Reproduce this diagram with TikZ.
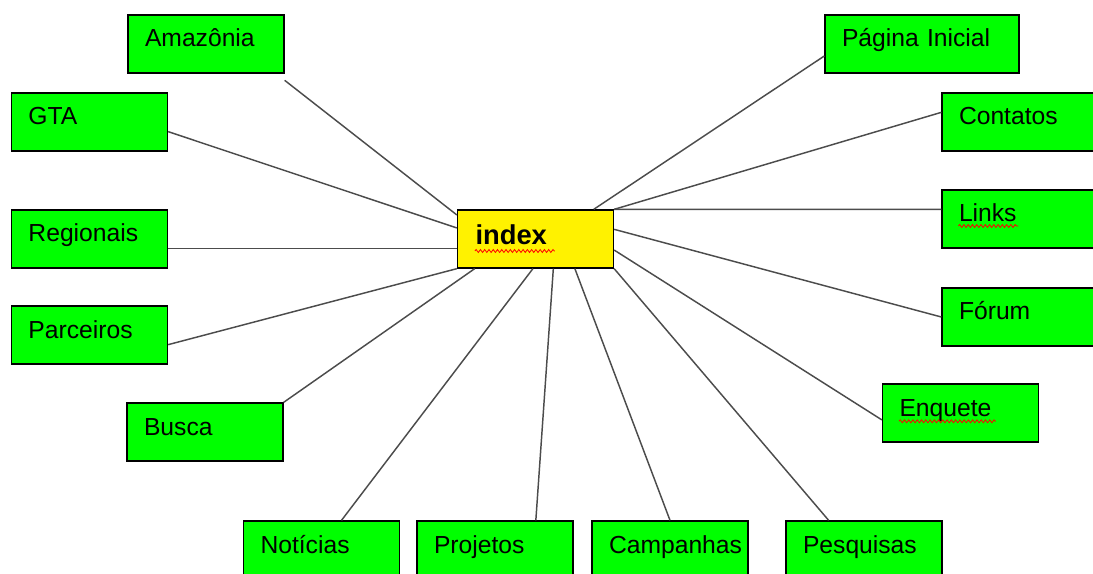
\documentclass[tikz,border=0pt]{standalone}
\usepackage{fontspec}
\setmainfont{Liberation Sans}
\usetikzlibrary{decorations.pathmorphing}

\begin{document}
\begin{tikzpicture}[
            x=0.75pt, y=-0.75pt,
            sitebox/.style={rectangle,draw=black,line width=1pt,fill=green,
                inner xsep=12.75pt,inner ysep=0pt,text width=91.5pt,align=left,
                text height=24pt,text depth=19.5pt,
                font=\fontsize{18.5}{20}\selectfont},
            indexbox/.style={sitebox,fill=yellow,inner xsep=13.5pt,text width=90pt,
                text height=26.25pt,text depth=17.25pt,
                font=\fontsize{20.5}{22}\selectfont\bfseries},
            conn/.style={draw=black!70,line width=1.1pt},
            spell/.style={draw=red,line width=0.6pt,decorate,
                decoration={snake,amplitude=1.1pt,segment length=3.2pt}}
            ]
            \useasboundingbox (0,0) rectangle (1093,574);
            \clip (0,0) rectangle (1093,574);
            % centro
            \node[indexbox] (idx) at (535.5,239) {index};
            % lado esquerdo
            \node[sitebox] (amaz) at (206,44) {Amazônia};
            \node[sitebox] (gta) at (89.5,122) {GTA};
            \node[sitebox] (reg) at (89.5,239) {Regionais};
            \node[sitebox] (parc) at (89.5,335) {Parceiros};
            \node[sitebox] (busca) at (205,432) {Busca};
            % embaixo
            \node[sitebox] (notic) at (321.5,550) {Notícias};
            \node[sitebox] (proj) at (495,550) {Projetos};
            \node[sitebox] (camp) at (670,550) {Campanhas};
            \node[sitebox] (pesq) at (864,550) {Pesquisas};
            % lado direito
            \node[sitebox,text width=120pt] (pag) at (922,44) {Página Inicial};
            \node[sitebox] (cont) at (1020,122) {Contatos};
            \node[sitebox] (links) at (1020,219) {Links};
            \node[sitebox] (forum) at (1020,317) {Fórum};
            \node[sitebox] (enq) at (960.5,413) {Enquete};
            % sublinhado ondulado
            \draw[spell] ([xshift=13.5pt,yshift=-4.5pt]idx.base west) -- ++(80,0);
            \draw[spell] ([xshift=12.75pt,yshift=-3pt]links.base west) -- ++(60,0);
            \draw[spell] ([xshift=12.75pt,yshift=-4pt]enq.base west) -- ++(97,0);
            % ligacoes
            \draw[conn] ([yshift=-5pt]amaz.south east) -- (idx.163);
            \draw[conn] (gta.353) -- (idx.172);
            \draw[conn] (reg.353) -- (idx.187);
            \draw[conn] (parc.353) -- (idx.south west);
            \draw[conn] (busca.north east) -- (idx.206);
            \draw[conn] (notic.56) -- (idx.265);
            \draw[conn] (proj.36) -- (idx.301);
            \draw[conn] (camp.north) -- (idx.323);
            \draw[conn] (pesq.140) -- (idx.south east);
            \draw[conn] (enq.185) -- (idx.352);
            \draw[conn] (forum.west) -- (idx.7);
            \draw[conn] (links.173) -- (idx.north east);
            \draw[conn] (cont.173) -- (idx.north east);
            \draw[conn] (pag.187) -- (idx.27);
        \end{tikzpicture}
\end{document}
